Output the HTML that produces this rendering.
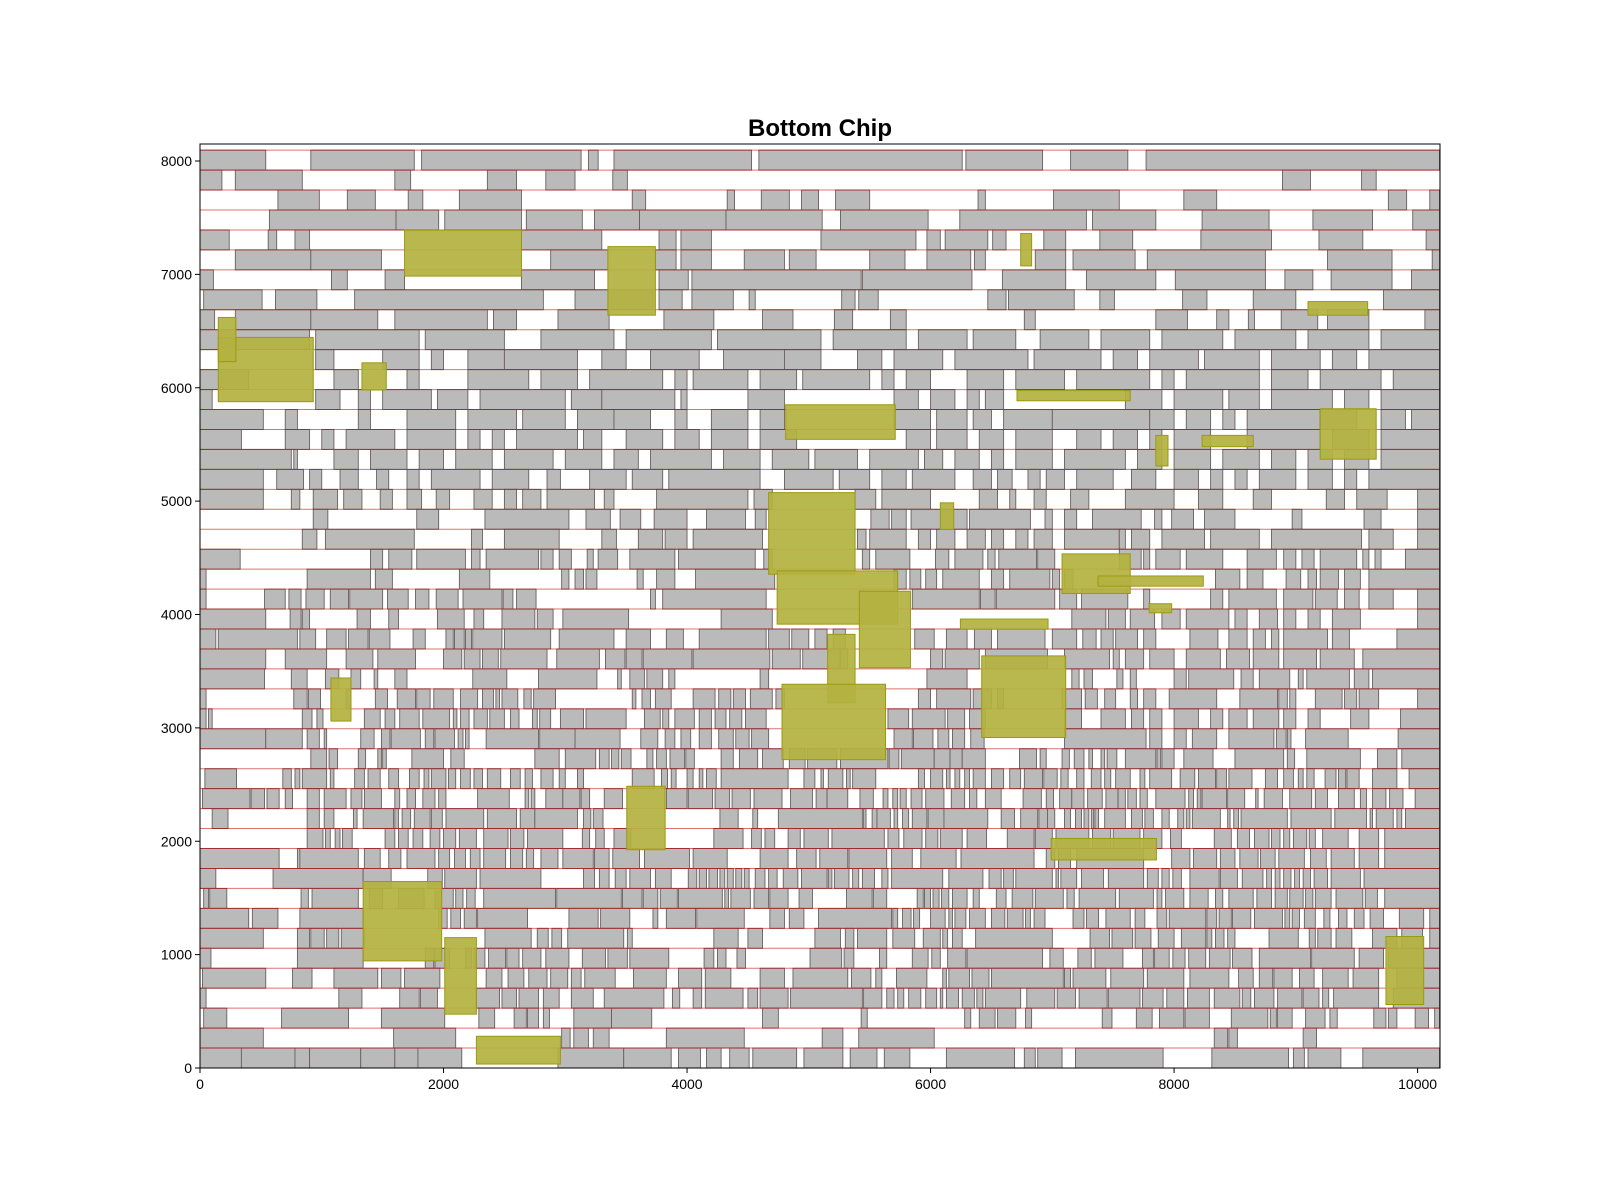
<!DOCTYPE html>
<html><head><meta charset="utf-8"><title>Bottom Chip</title>
<style>html,body{margin:0;padding:0;background:#fff}svg{display:block;font-family:"Liberation Sans",sans-serif}</style>
</head><body>
<svg id="chart" width="1600" height="1200" viewBox="0 0 1600 1200" xmlns="http://www.w3.org/2000/svg">
<rect width="1600" height="1200" fill="#fff"/>
<text x="820" y="136" text-anchor="middle" font-size="24" font-weight="bold">Bottom Chip</text>
<g id="plot"></g>
<g id="axes"></g>
</svg>
<script>
// cell rows listed top (row 45) to bottom (row 0); values in hundreds of units "start-end"
const rowCellsTopDown = [
"0-5.4,9.1-17.6,18.2-31.3,31.9-32.7,34-45.3,45.9-62.6,62.9-69.2,71.5-76.2,77.7-101.8",
"0-1.8,2.9-8.4,16-17.3,23.6-26,28.4-30.8,33.9-35.1,88.9-91.2,95.4-96.6",
"6.4-9.8,12.1-14.4,17.1-18.3,21.3-26.4,35.5-36.6,43.3-43.9,46.1-48.4,49.4-50.8,52.2-55,63.9-64.5,70.1-75.5,80.8-83.5,97.6-99.1,101-101.8",
"5.7-16.1,16.1-19.6,20.1-26.4,26.8-31.4,32.4-36.1,36.1-43.2,43.2-51.1,52.6-59.8,62.4-72.8,73.3-78.5,82.3-87.8,91.4-96.3,99.6-101.8",
"0-2.4,5.6-6.3,7.8-9.0,26.4-33,37.7-39.1,39.5-42,51-58.8,59.7-60.8,61.2-64.7,65.1-66.2,69.3-71.1,73.9-76.6,82.2-88,91.9-95.5,100.7-101.8",
"2.9-9.1,9.1-14.9,28.8-33.5,37.4-39.1,39.5-42,44.7-48,48.4-50.6,55-57.9,59.7-63.3,63.6-64.5,68.6-71.1,71.7-76.8,77.8-87.5,92.6-97.9,101.2-101.8",
"0-1.1,10.8-12.1,15.2-16.8,26.4-32.4,37.7-40.1,40.4-54.3,54.4-63.4,65.9-71.1,72.8-78.5,80.1-87.5,89.1-91.4,92.9-97.9,99.5-101.8",
"0.3-5.1,6.2-9.6,12.7-28.2,30.8-37.2,37.7-39.6,40.4-43.8,45.1-45.6,52.7-53.8,54.1-55.7,64.7-66.2,66.4-71.8,73.9-75.1,80.7-82.7,86.5-90,97.2-101.8",
"0-1.2,2.9-9.1,9.1-14.6,16-23.6,24.1-26,29.4-33.6,38.1-42.2,46.2-48.7,52.1-53.6,56.7-58,67.7-68.6,78.5-81.1,83.5-84.5,86.1-86.6,88.8-91.8,92.6-96,100.6-101.8",
"0-9,9.5-18,18.5-25,28-34,35-42,42.5-51,52-58,59-63,63.5-67,69-73,74-78,79-84,85-90,91-96,97-101.8",
"9.5-11,15-18,19-20,22-25,25-31,33-35,37-41,43-48,48-51,54-56,57-61,62-68,68.5-74,75-77,78-82,82.5-87,88-92,93-95,96-101.8",
"0-4,11-13,17-18,22-27,28-31,32-38,39-40,40.5-45,46-49,49.5-55,56-57,58-60,63-66,67-71,72-78,79-80,81-87,88-91,92-97,98-101.8",
"0-1,9.5-11.5,13-14,15-19,19.5-22,23-30,30.5-33,33-39,39.5-40,45-48,57-59,60-62,63-64,64.5-66,76-79,80-84,84.5-87,88-93,94-96,97-101.8",
"0-5.2,7-8,13-14,17-21,22-26,26.5-30,31-34,34-37,39-40,42-45,46-48,57-60,60.5-63,63.5-65,66-70,70-78,78-80,81-83,84-85,86-92,92-95,97-99,99.5-101.8",
"0-3.4,7-9,10-11,12-16,17-21,22-23,24-25,26-31,31.5-33,35-38,39-41,42-45,46-49,58-60,60.5-63,64-66,67-70,72-74,75-77,78-79,80-83,86-92,93-96,97-101.8",
"0-7.5,7.7-8,11-13,14-17,18-20,21-24,25-29,30-33,34-36,37-42,43-46,47-50,50.5-54,55-59,59.5-61,62-64,65-66,67-70,71-76,77-79,80-83,84-87,88-90,91-93,94-96,97-101.8",
"0-5.2,6.3-8.5,9-10,11.5-13,14.5-15.5,17-18,19-23,24-27,28.5-29.6,32-35,35.5-38,38.5-46,48-52,52.5-55,56-58,58.5-62,63.5-65,65.5-66.7,68-69,69.5-71,72-75,76.5-78.5,80-82,83-84,85-86,87-90,91-93,94-95,96-101.8",
"0-5.2,7.5-8.2,9.3-11.3,11.8-13.3,14.8-15.8,17-18.2,19.4-20.5,22.5-24,25-26,26.5-28,28.5-32.4,33.2-34,37.5-45,45.5-47,53.8-55.5,56-60,64-65.5,66.5-67,68.5-69.5,71.5-73,76-80,82-84,86.5-88,92.5-94,95-97.5,100-101.8",
"9.3-10.5,17.8-19.6,23.4-30.3,31.7-33.7,34.5-36.2,37.3-40,41.6-44.8,45.6-46.5,55.1-56.6,56.8-58,58.4-63,63.2-68.2,69.4-70,71-72,73.3-77.3,78.4-79,79.8-81.6,82.5-85,89.7-90.5,95.6-97,100-101.8",
"8.4-9.6,10.3-17.6,22.3-23.2,25-29.5,33-34.2,36-38,38.2-40,40.5-46.2,54-54.7,55-58,59-60,60.5-62,63-64.5,65-66,67-68,68.5-70,71-75.5,75.5-76,76.5-78,79-82.5,83-87,88-95.4,96-98,100-101.8",
"0-3.3,14-15,15.5-17.4,17.8-21.8,22.3-23,23.5-27.8,28-29,29.5-30.5,31.8-32.3,32.7-34.3,35.3-39,39.3-45.6,46.3-47,54.4-55,55.5-58.3,60.4-61.5,62-64.3,64.7-65.3,65.6-68.7,68.8-70.2,75.5-77.3,77.5-78,78.5-80.5,81-84,86-88.4,89-90,90.5-91.5,92-95,95.5-96,96.5-97,99-101.8",
"0-0.5,8.8-14,14.4-15.8,21.3-23.8,29.7-30.3,30.8-31.5,31.7-32.6,35.9-36.4,37.5-39,40.7-47.2,57-58,58.3-59.2,59.6-60.5,61-64,65-66,66.5-69.8,70-70.6,71-71.7,83.4-85.4,86-87.3,89.2-90.4,91-91.7,92-93.5,94-95.3,96-101.8",
"0-0.5,5.3-7,7.3-8.3,8.7-10.2,10.7-12.2,12.3-15,15.4-17.1,17.7-18.8,19.4-21.2,21.6-24.8,24.9-25.7,26-27.6,37-37.4,38-46.5,58.5-64,64.1-65.3,65.4-70.2,70.6-72,72.4-76.2,77.5-78,83-84,84.5-88.4,89-91.4,91.6-93.4,94-95.2,96-98,100-101.8",
"0-5.4,7.4-8.3,8.4-9,12.9-14,15.5-16.3,19.5-21.7,22.5-23.3,24.8-27.5,27.7-29,29.8-35.2,42.8-47,71.6-74.4,74.6-76,76.4-78.4,79-80.5,81-84.5,85-86,87-88.5,89-90,91-92,93-95.3,100-101.8",
"0-1.3,1.5-8,8.2-9.5,10.4-12,12.2-13.8,13.9-15.6,17.5-18.5,20.2-20.8,20.9-21.7,21.8-22.3,22.4-24.8,25-28.8,29.5-34,35-37,38.3-39.7,41-46.5,46.7-48.4,48.6-50,50.5-51.5,52-53,58.7-60.3,61.3-63,63.6-65,65.5-69.4,70-72,72.5-73.6,74-75,75.2-77,77.5-78.5,81.3-83.6,84.5-86,86.5-87.5,88-88.6,89-92.6,93-94.4,98.3-101.8",
"0-5.4,7-10.4,12-14.2,14.6-17.7,20-21.5,21.7-23,23.2-24.5,24.7-28.5,29.3-32.8,33.3-34.9,35-36.3,36.4-40.4,40.5-46.8,47-49.3,49.5-52.5,52.6-53.2,60-61,61.2-64,64.5-69.6,71-74.7,75-75.5,76-77.5,78-80,81-83.8,84.3-86.2,86.5-88.6,89-91.7,92-94.8,95.5-101.8",
"0-5.3,7.5-8.8,10.3-11.4,12.4-13.2,14.3-14.6,16-17,22.4-25.2,27.8-32.6,34.3-34.6,35.3-36.5,36.7-38,38.5-39,46-46.7,59.7-63,71.6-72.2,72.6-73.3,75.3-75.8,76.4-76.9,80-81,81.2-84.9,85.5-86.5,87-89.5,90.2-90.6,90.9-94.4,94.8-96,96.3-101.8",
"0-0.5,7.7-8.8,8.9-9.9,12-12.4,14.4-15.4,16.2-17.7,17.8-18.9,19.2-20.8,21.4-22.8,23.2-24.1,24.3-24.6,24.8-26.1,26.6-27.2,27.4-29.2,35.5-35.8,36.3-37,37.4-38.7,40.5-42.3,42.6-43.6,43.8-44.8,45.2-47,47.3-48,59-60,60.5-63.3,63.5-65,65.5-66,70.8-72.4,72.7-73.7,74.3-75.2,76.4-77,77.5-78.5,79.6-83.5,85.4-88.5,88.6-89.3,89.5-90,91.6-93.8,94-95,95.2-96.8,100-101.8",
"0-0.5,0.7-1,8.4-9.2,9.6-10.1,13.5-14.8,15.2-16,16.4-18,18.3-20.5,20.8-21.1,21.4-22.1,22.5-23.6,23.8-25,25.5-26.2,27.3-27.7,27.9-28.8,29.6-31.5,31.7-35,36.5-37.8,38-38.5,39-40.6,41-42,42.3-43.2,43.5-44.5,44.8-46.5,56.5-58.2,58.5-61.2,61.4-62.8,63.2-64.5,71-72.4,74-76,76.5-77.5,78-79,80-82,83-84,84.5-86,86.5-88.6,89-90,91-92,94.5-96,98.6-101.8",
"0-5.4,5.4-8.4,8.8-9.8,10.2-10.4,13.2-14.3,14.9-15.6,15.7-18.1,18.5-19.2,19.3-20.9,21.2-21.6,21.8-22.1,23.5-27.8,27.9-30.9,30.8-34.5,36.2-37.6,38.2-39,39.5-40.3,41-42,42.6-43.8,44-45.1,45.3-46.7,57-58.5,58.6-60.2,60.6-61.5,61.8-62.8,63.3-64.4,71-77.7,78-79,80-81,81.5-83.5,84.5-88.2,88.4-89.2,89.3-89.6,90.8-94.3,98.4-101.8",
"9.1-10.4,10.6-11.3,13-13.6,14.6-14.9,15-15.3,17.4-20,20.6-21.7,27.5-29.5,30-32.5,32.8-33.6,33.8-34.4,34.6-35.4,36.7-37.2,37.5-38.3,38.6-39.8,39.9-40.6,42.8-43.8,44.3-45.8,46.2-47.9,48.4-49.7,49.9-52.3,52.6-56.5,56.6-57.4,57.6-60.3,60.3-61.6,61.6-62.6,62.6-64.5,67.3-68.7,69-69.5,70.8-71.4,71.8-72.6,73-73.3,74-74.3,74.5-75.3,76-78.5,78.6-78.9,79-80,80.8-83.2,85-89,89.3-89.9,90.9-95.3,96.7-98.3,98.7-101.8",
"0.4-3,6.8-7.5,7.8-8.2,8.4-10.4,10.7-11,12.7-13.5,13.8-14.8,15.5-16.3,17.2-18,18.4-18.8,19-20.2,20.4-21,21.4-22.2,22.5-23.2,23.6-24.7,25.5-26.3,26.7-27.3,28-29,29.5-30,31-31.5,35.5-37.3,37.9-38.4,38.7-39.1,40-40.5,41-41.3,41.6-42.4,42.8-48.3,49.6-50.5,51-51.2,51.6-52.8,53.1-53.4,53.6-55.5,59-59.5,60-61,61.3-61.6,62-62.4,62.8-63.2,63.5-64.5,65-66,66.5-67.4,67.7-69.2,69.3-70.4,70.7-71.3,72-72.6,73.2-74,74.3-74.8,75.2-76.4,77.2-77.6,78-79.8,80.5-81.7,82-83.4,83.5-84.3,84.5-86.4,87.5-88.5,89-89.8,90.2-90.6,90.9-91.5,92.4-93.3,93.5-94.1,94.2-95.2,96.3-98.3,99.3-101.8",
"0.2-4.1,4.2-5.3,5.5-6.5,7-7.6,8.8-9.8,10.2-12,12.4-13.3,13.5-14.9,16-16.4,17-17.7,18.3-19.3,19.6-20.2,22.8-25.4,26.7-27,27.2-27.5,28.4-29.8,29.8-31.2,31.3-32,33.2-34.7,38.3-40,40.1-42.1,42.3-43.5,43.7-45.2,45.5-47.8,48.5-50.3,50.6-51.5,51.5-53.2,54.2-55.3,56.1-56.5,56.9-57.3,57.5-58,58.4-59.3,59.6-61.1,61.7-62.8,63.2-63.8,64.5-65.8,67.6-69.1,69.5-70.1,70.6-71.6,71.6-72.6,72.9-74.1,74.4-75.4,75.4-76,76.2-76.9,77.2-77.8,78.5-80.9,81.2-81.6,81.9-82.2,82.3-84.3,84.4-85.8,86.7-86.9,87.4-88.9,89.5-91.3,91.6-92.6,93.5-94.8,95.3-95.8,96.3-97.4,97.7-98.8,99.8-101.8",
"1-2.3,8.8-9.8,10.2-11,12.6-12.9,13.4-15.9,16-16.3,16.6-17.3,17.6-18.9,19-19.9,20.2-23.3,23.6-26,26.3-27.5,27.5-31,31.5-32.1,32.3-33.1,42.7-44.2,45.4-45.8,47.5-54.4,54.5-54.7,55.2-55.6,55.6-56.7,57-57.3,57.7-58.2,58.5-59.7,59.8-61.1,61.1-64.7,65.8-66.9,67.4-68.8,68.9-69.6,69.6-70.2,71-71.5,71.9-72.4,72.6-73,73.2-73.4,73.5-73.8,74.3-76,76.5-77.4,77.6-78.3,79-79.6,80.3-80.8,81-81.3,81.5-83.8,84.4-84.6,84.9-85.3,85.5-89.3,89.6-92.9,93.2-95.8,96.1-96.3,96.6-98,98.3-98.7,99-101.8",
"8.8-10.1,10.3-10.7,11.1-11.5,11.7-12.5,15.2-16,16.3-17.1,17.5-18.3,18.9-19.7,20-21,21.3-22.7,23.3-25.3,25.5-26.6,26.9-29.8,31.4-32,32.5-33.2,34-35.4,42.2-44.6,45.3-46.1,46.4-47.2,48.3-49.3,49.6-51.6,51.9-56.2,56.5-57.4,57.8-59.3,59.6-60.6,60.8-62.6,63-64.6,66.3-68.5,68.6-70,70.3-73,73.3-74.8,75-77.2,77.5-79,79.7-80.6,83.3-84.7,85.2-86.2,86.6-87.8,88-88.7,89-89.5,89.8-90.9,91.1-91.6,92.2-94.3,95.2-96.8,97.3-101.8",
"0-6.5,8-8.5,8.2-13,13.5-14.8,15.5-16.5,17-19.3,19.6-20.5,20.9-21.8,22.2-23,23.3-25.1,25.5-26.5,26.8-27.4,28-29.4,29.8-32.3,32.4-33.6,33.9-36.1,36.5-40.2,40.5-43.3,46-48.3,49-50.6,50.9-53.2,53.3-56.4,56.8-58.5,59.2-62.1,62.5-68.5,69.5-70.2,70.5-71.5,72-77.5,79.8-81.3,81.6-83.5,83.8-85,85.4-86.9,87.1-88.3,88.6-90.7,91.2-92.5,92.9-94.8,95.2-96.8,97.3-101.8",
"0-1.3,6-13.4,13.4-15.7,18.7-19.9,20.1-22.7,23-28,31.5-32.4,32.8-33.6,34.1-35,35.3-37,37.4-38.7,40.1-40.8,41-41.6,41.8-42.5,42.7-43.1,43.3-43.8,44-44.5,44.7-45.1,45.6-46.4,46.7-47.4,47.9-49.1,49.4-51.5,51.6-51.9,52.1-53.3,53.6-54.1,54.4-55.4,56-56.5,56.8-61,61.5-64.3,64.8-65.8,66-66.8,67-70,70.3-70.5,70.7-72,72.4-74.2,74.6-77.5,77.8-78.7,79-79.6,79.9-80.6,81.3-83.7,83.8-85.2,85.6-87.3,87.6-88,88.3-88.7,89-89.6,89.9-90.3,90.6-91.2,91.5-92.6,92.9-95.3,95.6-101.8",
"0.3-0.7,0.8-2.2,8.3-8.9,9.2-13,13.9-15,16.3-18.4,19.3-20.8,21-21.6,21.9-22.6,23.3-29.2,29.3-34.6,34.7-36.3,36.4-37.6,37.8-39.2,39.3-42.9,43.1-43.4,43.6-45.2,45.5-46.7,46.8-48.3,49.2-50.3,53.1-55.2,55.3-56.4,58.9-59.4,59.5-60,60.2-60.7,60.9-61.5,61.8-63,63.5-64,65.4-66.2,66.7-68.4,68.6-70.9,71.2-71.8,72.2-75.2,75.5-78.3,78.6-79,79.3-80.8,81.3-82.8,83.4-84,84.5-86.5,86.8-88,88.3-89.3,89.5-90.6,90.8-91.4,91.6-92.9,93.3-95.5,95.7-96.7,97.3-101.8",
"0-4,4.3-6.4,8.2-13.4,19.6-20.3,20.6-21.4,21.7-22.7,22.8-26.9,30.3-32.7,32.9-35.3,37.2-37.6,38.3-40.7,40.8-44.7,46.8-48,48.4-49.6,50.8-56.8,56.9-57.3,57.7-58.4,58.6-59.1,60-61.2,61.5-61.8,62-62.9,63.2-64.5,65-66.1,66.3-67.6,67.8-68.2,68.5-69.4,71.7-72.6,72.8-73.8,74.4-76.4,76.8-77.6,78.6-79.4,79.6-82.6,82.7-83.5,83.7-84.7,84.8-86.3,86.6-88.9,89.1-89.5,89.7-90.3,90.7-91.6,92.3-92.8,93.5-94.2,94.8-95.6,96.1-97.2,98.5-100.5,101-101.8",
"0-5.2,8-9,9.1-10.2,10.4-11.4,11.6-13.5,23.4-27.2,27.7-28.6,28.9-29.7,30.2-34.8,35.1-35.5,42.2-44.2,45-46.2,50.5-52.6,53-53.7,54-56.4,56.9-58.7,59.4-60.8,61-61.4,61.8-62.6,63.7-70,73.1-74.7,74.9-76.6,76.8-78.1,78.7-80,80.6-82.6,82.7-83.1,83.4-84.1,84.4-85,87.8-90.2,91.1-91.6,91.8-92.9,93.3-94.6,96.3-98.3,98.7-100.4,101-101.8",
"0-0.9,8-13.4,18.5-19.2,19.3-20.5,21.8-22.3,22.5-23.4,23.7-25.1,25.2-26.2,26.5-28,28.4-30.3,31.4-33.3,33.5-35.1,35.3-38.5,41.4-42.2,42.5-43.2,44.1-44.8,50.1-52.7,52.9-53.7,55.8-56.4,58.5-59.8,60.1-60.8,61.4-62.9,63-69.2,69.8-70.9,72.1-73.2,73.5-75.8,77.4-78.3,78.4-79.6,79.9-80.9,81.2-82.6,82.9-84.6,84.8-86.4,87-91.2,91.3-94.8,95.2-97.2,97.6-101.8",
"0.2-5.4,7.6-9.2,11-14.6,14.9-16.5,16.8-19.7,23.5-24.8,25.3-26.6,27-28.5,28.8-30.2,30.5-31.3,31.6-34.1,35.6-38.3,39.3-41.2,41.5-43.6,46-48,48.7-53.2,53.5-55.1,55.5-56,57.2-59.7,61-61.3,61.5-63.2,63.4-64.8,65-70.9,71-71.5,71.7-74.4,74.8-77.5,77.8-80.8,81.3-84.5,85.3-86.5,87-88.1,88.2-89.7,90.3-91.5,92.2-94.3,94.7-96.8,98.3-101.8",
"0-0.5,11.4-13.3,16.4-18,18.1-19.5,22.7-24.6,24.8-26,26.2-27.8,28.2-29.5,30.5-32.3,33.2-38.1,38.8-39.4,40.5-41.2,41.5-44.6,45-45.8,46-48.3,48.5-54.4,54.5-56,56.4-57,57.3-57.8,58.2-59.2,59.6-60.5,60.8-61,61.3-62.3,62.6-63.6,63.8-64.3,64.5-67.4,67.9-70.2,70.4-71.9,72.2-74.5,74.6-77.2,77.4-79.1,79.4-80.8,81.1-82.9,83.3-85.4,85.6-86.3,86.6-88.2,88.5-90.5,90.6-91.9,92.2-92.7,93.1-96.8,98-101.8",
"0.3-2.2,6.7-12.2,14.9-20.1,22.9-24.2,25.8-26.8,26.9-27.8,28.2-28.7,30.7-33.8,33.8-37.1,46.2-47.5,54.3-54.8,62.8-63.3,64-65.3,65.5-67,67.8-68.3,74.1-74.9,76.9-78.2,78.8-80.8,80.9-82.9,84.7-87.7,87.9-88.4,88.5-89.7,90.8-92.4,92.8-93.4,96.4-97.4,97.6-98.3,99.8-100.9,101.4-101.8",
"0-5.2,15.9-21,29.7-30.4,30.7-31.9,32.3-33.6,38.3-44.7,51.1-52.8,54.1-60.3,83.3-84.4,84.5-85.2,90.6-91.7",
"0-3.4,3.4-7.8,7.8-9,9-13.2,13.2-16,16-17.9,17.9-21.5,29.4-34.8,34.8-38.7,39.3-41.1,41.6-42.8,43.5-45.1,45.4-49,49.6-52.8,53.4-55.6,56.2-58.3,61.3-66.9,67.7-68.6,68.8-70.8,71.9-79.1,83.1-89.4,89.8-90.7,91-93.7,95.5-101.8"
];
// macro blocks (data units)
const macroX0 = [150,150,1330,1680,3350,6740,9100,6710,4810,7850,8230,9200,6080,4670,4740,7080,7375,7795,5415,6245,5155,6420,4780,1075,3505,6990,1340,2010,2270,9740];
const macroX1 = [930,295,1530,2640,3740,6830,9590,7640,5710,7950,8650,9660,6190,5380,5730,7640,8240,7980,5835,6965,5380,7110,5630,1240,3820,7855,1985,2270,2960,10050];
const macroY0 = [5877,6230,5980,6985,6640,7075,6640,5885,5545,5310,5480,5370,4750,4355,3915,4185,4250,4015,3530,3870,3220,2915,2720,3060,1925,1835,945,475,35,560];
const macroY1 = [6444,6620,6220,7390,7245,7360,6760,5975,5850,5580,5580,5815,4985,5075,4385,4535,4340,4095,4205,3960,3825,3635,3385,3440,2485,2025,1645,1150,280,1160];
const xTicks = [0,2000,4000,6000,8000,10000];
const yTicks = [0,1000,2000,3000,4000,5000,6000,7000,8000];
const rowHeight = 176;
const xMax = 10184, yMax = 8150;

const L=200,R=1440,T=144,B=1068;
const sx = v => L + v/xMax*(R-L);
const sy = v => B - v/yMax*(B-T);
const NS='http://www.w3.org/2000/svg';
const plot=document.getElementById('plot'), axes=document.getElementById('axes');
function mk(tag, attrs, parent){const e=document.createElementNS(NS,tag);for(const k in attrs)e.setAttribute(k,attrs[k]);parent.appendChild(e);return e;}

const nRows=rowCellsTopDown.length;
rowCellsTopDown.forEach((s,i)=>{
  const r=nRows-1-i;
  const y0=r*rowHeight, y1=(r+1)*rowHeight;
  s.split(',').forEach(seg=>{
    const [a,b]=seg.split('-').map(Number);
    const x0=a*100, x1=Math.min(b*100,xMax);
    const c=mk('rect',{x:sx(x0),y:sy(y1),width:Math.max(0.5,sx(x1)-sx(x0)),height:sy(y0)-sy(y1),fill:'#bbbaba',stroke:'#6a5f5f','stroke-width':0.9},plot);
    
    
  });
});
for(let r=0;r<=nRows;r++){
  const ln=mk('line',{x1:L,x2:R,y1:sy(r*rowHeight),y2:sy(r*rowHeight),stroke:'#c00000','stroke-opacity':0.55,'stroke-width':1},plot);
  
  
}
macroX0.forEach((x0,i)=>{
  const m=mk('rect',{x:sx(x0),y:sy(macroY1[i]),width:sx(macroX1[i])-sx(x0),height:sy(macroY0[i])-sy(macroY1[i]),fill:'#b3b240','fill-opacity':0.92,stroke:'#9a9a10','stroke-width':1},plot);
  
  
});
const frame=mk('rect',{x:L,y:T,width:R-L,height:B-T,fill:'none',stroke:'#000','stroke-width':1},axes);


xTicks.forEach(v=>{
  mk('line',{x1:sx(v),x2:sx(v),y1:B,y2:B+5,stroke:'#000'},axes);
  const t=mk('text',{x:sx(v),y:B+21,'text-anchor':'middle','font-size':14},axes);
  t.textContent=v;
  
  
});
yTicks.forEach(v=>{
  mk('line',{x1:L-5,x2:L,y1:sy(v),y2:sy(v),stroke:'#000'},axes);
  const t=mk('text',{x:L-8,y:sy(v)+5,'text-anchor':'end','font-size':14},axes);
  t.textContent=v;
  
  
});
</script>
</body></html>
